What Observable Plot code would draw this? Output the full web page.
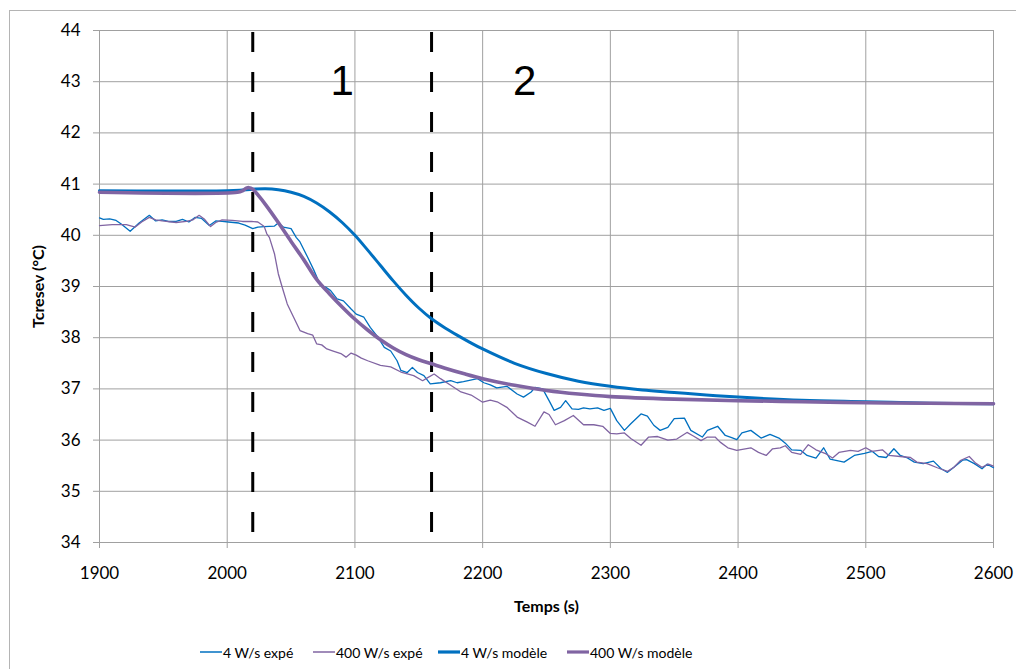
<!DOCTYPE html>
<html>
<head>
<meta charset="utf-8">
<script src="https://cdn.jsdelivr.net/npm/d3@7"></script>
<script src="https://cdn.jsdelivr.net/npm/@observablehq/plot@0.6"></script>
<style>
  html, body { margin: 0; padding: 0; background: #fff; overflow: hidden; }
  body { position: relative; width: 1016px; height: 669px; font-family: Lato, "Open Sans", sans-serif; }
  #frame { position: absolute; left: 9px; top: 10px; width: 1100px; height: 1000px; border: 1px solid #b4b4b4; box-sizing: border-box; }
  #chart { position: absolute; left: 0; top: 0; }
  .leg { position: absolute; top: 642px; height: 20px; display: flex; align-items: center; font-size: 14px; color: #000; white-space: nowrap; }
  .leg svg { display: block; margin-right: 1px; }
</style>
</head>
<body>
<div id="frame"></div>
<div id="chart"></div>
<div id="legend"></div>
<script>
// ---- data ----
const xTicks = [1900, 2000, 2100, 2200, 2300, 2400, 2500, 2600];
const yTicks = [34, 35, 36, 37, 38, 39, 40, 41, 42, 43, 44];
const seriesNames = ["4 W/s expé", "400 W/s expé", "4 W/s modèle", "400 W/s modèle"];
const dividers = [2020, 2160];
const zoneLabels = ["1", "2"];
const zoneX = [2090, 2233];
const zoneY = [43, 43];

const expT4 = [1900,1903,1908,1913,1917,1924,1931,1939,1944,1949,1954,1960,1965,1970,1975,1980,1986,1991,1996,2001,2009,2014,2020,2024,2029,2037,2040,2044,2050,2054,2057,2063,2068,2073,2077,2081,2086,2091,2097,2101,2107,2112,2118,2123,2128,2133,2136,2141,2145,2149,2154,2159,2167,2175,2180,2185,2196,2201,2206,2211,2219,2227,2232,2238,2241,2247,2252,2256,2261,2265,2270,2275,2279,2284,2290,2295,2300,2305,2311,2316,2324,2329,2334,2339,2345,2350,2358,2363,2372,2376,2384,2390,2395,2399,2403,2410,2418,2425,2432,2437,2442,2449,2454,2461,2467,2472,2483,2491,2499,2505,2510,2516,2522,2527,2532,2538,2545,2553,2559,2564,2569,2576,2579,2585,2591,2595,2600];
const exp4 = [40.34,40.31,40.32,40.29,40.22,40.08,40.24,40.39,40.28,40.30,40.27,40.27,40.31,40.26,40.35,40.33,40.19,40.28,40.27,40.26,40.24,40.20,40.13,40.16,40.17,40.18,40.24,40.16,40.13,39.96,39.87,39.57,39.31,39.02,38.99,38.92,38.76,38.72,38.56,38.46,38.40,38.20,38.01,37.81,37.74,37.55,37.36,37.32,37.42,37.32,37.26,37.10,37.12,37.16,37.12,37.14,37.20,37.12,37.08,37.02,37.05,36.90,36.84,36.94,37.03,37.00,36.77,36.58,36.64,36.77,36.61,36.60,36.63,36.61,36.63,36.58,36.62,36.38,36.19,36.32,36.51,36.47,36.29,36.19,36.25,36.42,36.43,36.19,36.06,36.19,36.27,36.09,36.05,36.01,36.14,36.19,36.04,36.11,36.04,35.94,35.81,35.80,35.70,35.65,35.85,35.63,35.57,35.70,35.74,35.78,35.68,35.66,35.83,35.70,35.66,35.57,35.54,35.59,35.44,35.37,35.47,35.61,35.62,35.54,35.44,35.53,35.46];

const expT400 = [1900,1910,1921,1928,1933,1939,1944,1949,1960,1968,1973,1978,1982,1987,1991,1996,2004,2012,2019,2024,2029,2031,2033,2037,2040,2043,2047,2052,2057,2063,2067,2070,2074,2078,2083,2089,2093,2097,2101,2105,2110,2120,2128,2136,2146,2153,2157,2162,2167,2175,2183,2191,2200,2206,2212,2219,2227,2235,2241,2248,2252,2257,2264,2271,2279,2287,2294,2300,2305,2311,2316,2324,2330,2337,2345,2352,2360,2365,2371,2376,2382,2386,2392,2399,2410,2416,2422,2427,2433,2437,2442,2449,2455,2461,2469,2474,2479,2488,2494,2500,2505,2513,2518,2527,2535,2540,2548,2556,2564,2569,2574,2581,2586,2591,2596,2600];
const exp400 = [40.19,40.21,40.21,40.16,40.26,40.35,40.30,40.28,40.25,40.27,40.30,40.39,40.32,40.17,40.25,40.30,40.29,40.27,40.27,40.26,40.17,40.03,39.96,39.64,39.25,38.99,38.66,38.40,38.14,38.08,38.05,37.88,37.86,37.78,37.74,37.69,37.62,37.70,37.66,37.60,37.55,37.46,37.43,37.33,37.26,37.16,37.22,37.29,37.20,37.07,36.94,36.88,36.74,36.78,36.74,36.64,36.45,36.35,36.27,36.55,36.50,36.30,36.38,36.48,36.30,36.30,36.27,36.13,36.12,36.14,36.03,35.90,36.06,36.07,36.00,36.02,36.15,36.08,35.99,36.06,36.06,35.96,35.85,35.80,35.85,35.76,35.70,35.83,35.85,35.89,35.76,35.72,35.91,35.81,35.73,35.65,35.76,35.80,35.78,35.85,35.78,35.81,35.70,35.68,35.66,35.57,35.54,35.46,35.39,35.47,35.60,35.68,35.55,35.47,35.53,35.49];

const modT4 = [1900,2000,2010,2020,2030,2040,2050,2060,2070,2080,2090,2100,2110,2120,2130,2140,2150,2160,2170,2180,2190,2200,2225,2250,2275,2300,2325,2350,2375,2400,2450,2500,2550,2600];
const model4 = [40.87,40.87,40.88,40.90,40.91,40.89,40.84,40.76,40.63,40.46,40.25,40.00,39.71,39.41,39.11,38.83,38.58,38.37,38.20,38.05,37.91,37.78,37.50,37.30,37.15,37.05,36.98,36.93,36.88,36.84,36.78,36.75,36.72,36.71];

const modT400 = [1900,2008,2012,2015,2017,2020,2025,2030,2040,2050,2060,2070,2080,2090,2100,2110,2120,2130,2140,2150,2160,2170,2185,2200,2225,2250,2275,2300,2350,2400,2450,2500,2550,2600];
const model400 = [40.84,40.84,40.87,40.92,40.93,40.90,40.76,40.60,40.25,39.88,39.52,39.14,38.86,38.60,38.36,38.15,37.96,37.80,37.67,37.57,37.49,37.41,37.30,37.20,37.07,36.97,36.90,36.85,36.80,36.77,36.75,36.73,36.72,36.71];

const colors = ["#0070C0", "#8064A2", "#0070C0", "#8064A2"];
const widths = [1.3, 1.3, 3, 3.6];

// ---- build tables ----
const toRows = (ts, vs, s) => ts.map((t, i) => ({t, v: vs[i], s}));
const rows = [
  toRows(expT4, exp4, seriesNames[0]),
  toRows(expT400, exp400, seriesNames[1]),
  toRows(modT4, model4, seriesNames[2]),
  toRows(modT400, model400, seriesNames[3])
];
const zones = zoneLabels.map((l, i) => ({l, x: zoneX[i], y: zoneY[i]}));

const chart = Plot.plot({
  width: 1016,
  height: 669,
  marginLeft: 99,
  marginRight: 23,
  marginTop: 30,
  marginBottom: 127,
  style: {fontFamily: "Lato, 'Open Sans', sans-serif", fontSize: "17px", color: "#000", background: "transparent", overflow: "visible"},
  x: {domain: [1900, 2600]},
  y: {domain: [34, 44]},
  marks: [
    Plot.gridX(xTicks, {stroke: "#a0a0a0", strokeOpacity: 1, strokeWidth: 1}),
    Plot.gridY(yTicks, {stroke: "#a0a0a0", strokeOpacity: 1, strokeWidth: 1}),
    Plot.axisX(xTicks, {tickSize: 6, tickPadding: 18, stroke: "#a0a0a0", label: null, tickFormat: d => String(d), fontSize: 17, color: "#000"}),
    Plot.axisY(yTicks, {tickSize: 6, tickPadding: 13, stroke: "#a0a0a0", label: null, tickFormat: d => String(d), fontSize: 17, color: "#000"}),
    Plot.ruleX(dividers, {y1: 44, y2: 34, stroke: "#000", strokeWidth: 3, strokeDasharray: "20,20", strokeDashoffset: -2}),
    ...rows.map((r, i) => Plot.line(r, {
      x: "t", y: "v",
      stroke: colors[i], strokeWidth: widths[i],
      curve: i < 2 ? "linear" : "catmull-rom",
      strokeLinejoin: "round"
    })),
    Plot.text(zones, {x: "x", y: "y", text: "l", fontSize: 42, fontFamily: "'Liberation Sans', Arial, sans-serif", fill: "#000", textAnchor: "middle"}),
    Plot.text(["Temps (s)"], {frameAnchor: "bottom", lineAnchor: "middle", textAnchor: "middle", dy: 64, fontWeight: "bold", fontSize: 16, fill: "#000"}),
    Plot.text(["Tcresev (°C)"], {frameAnchor: "left", lineAnchor: "middle", textAnchor: "middle", dx: -61, rotate: -90, fontWeight: "bold", fontSize: 16, fill: "#000"})
  ]
});
document.getElementById("chart").appendChild(chart);

// ---- legend ----
const legendX = [200, 313, 438, 567];
const legend = document.getElementById("legend");
seriesNames.forEach((name, i) => {
  const d = document.createElement("div");
  d.className = "leg";
  d.style.left = legendX[i] + "px";
  d.innerHTML = `<svg width="22" height="10"><line x1="0" x2="22" y1="5" y2="5" stroke="${colors[i]}" stroke-width="${i < 2 ? 1.5 : 3.2}"/></svg><span>${name}</span>`;
  legend.appendChild(d);
});
</script>
</body>
</html>
